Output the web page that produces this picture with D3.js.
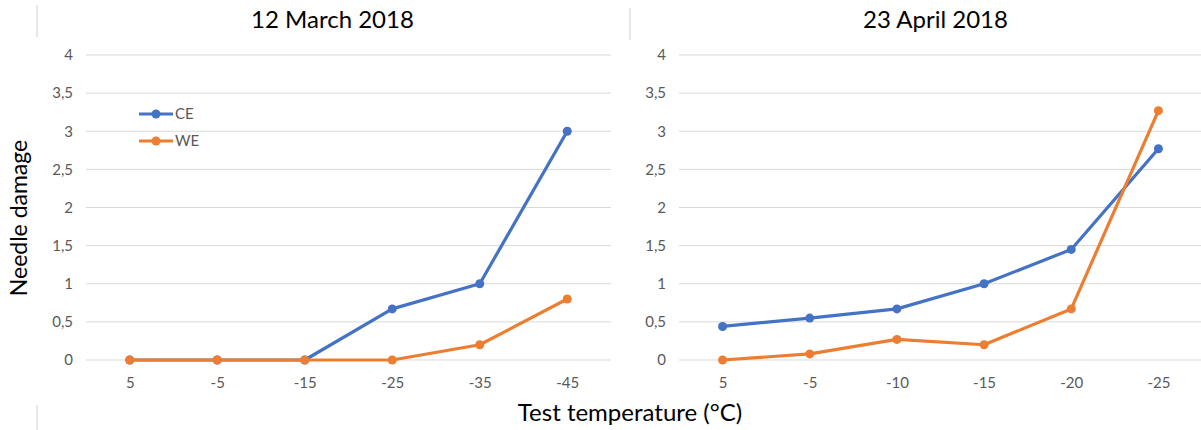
<!DOCTYPE html>
<html>
<head>
<meta charset="utf-8">
<script src="https://cdn.jsdelivr.net/npm/d3@7"></script>
<style>
  html, body { margin: 0; padding: 0; background: #fff; }
  svg { display: block; }
  text { font-family: Lato, "Open Sans", "Liberation Sans", sans-serif; }
</style>
</head>
<body>
<svg id="chart" width="1201" height="430"></svg>
<script>
// Needle damage after freezing tests, two sampling dates
const seriesNames = ["CE", "WE"];
const seriesColors = ["#4472C4", "#ED7D31"];
const yTicks = [0, 0.5, 1, 1.5, 2, 2.5, 3, 3.5, 4];

const marchTitle = "12 March 2018";
const marchTemps = ["5", "-5", "-15", "-25", "-35", "-45"];
const marchCE = [0, 0, 0, 0.67, 1, 3];
const marchWE = [0, 0, 0, 0, 0.2, 0.8];

const aprilTitle = "23 April 2018";
const aprilTemps = ["5", "-5", "-10", "-15", "-20", "-25"];
const aprilCE = [0.44, 0.55, 0.67, 1, 1.45, 2.77];
const aprilWE = [0, 0.08, 0.27, 0.2, 0.67, 3.27];

const svg = d3.select("#chart");
const fmt = d => String(d).replace(".", ",");

function panel(cfg) {
  const g = svg.append("g");
  const x = d3.scalePoint().domain(cfg.temps).range([cfg.x0, cfg.x1]).padding(0.5);
  const y = d3.scaleLinear().domain([0, 4]).range([360, 55]);

  // gridlines
  g.append("g").selectAll("line").data(yTicks).join("line")
    .attr("x1", cfg.x0).attr("x2", cfg.x1)
    .attr("y1", d => y(d)).attr("y2", d => y(d))
    .attr("stroke", "#d9d9d9").attr("stroke-width", 1);

  // y axis labels
  const yAxis = d3.axisLeft(y).tickValues(yTicks).tickFormat(fmt).tickSize(0).tickPadding(0);
  const ya = g.append("g").attr("transform", `translate(${cfg.x0 - 13},0)`).call(yAxis);
  ya.select(".domain").remove();
  ya.selectAll("text").attr("fill", "#595959").style("font-size", "15px")
    .style("font-family", "Lato, 'Open Sans', sans-serif");

  // x axis labels
  const xAxis = d3.axisBottom(x).tickSize(0).tickPadding(0);
  const xa = g.append("g").attr("transform", "translate(0,377)").call(xAxis);
  xa.select(".domain").remove();
  xa.selectAll("text").attr("fill", "#595959").style("font-size", "15px")
    .style("font-family", "Lato, 'Open Sans', sans-serif");

  // title
  g.append("text").attr("x", (cfg.x0 + cfg.x1) / 2 + cfg.titleShift).attr("y", 28)
    .attr("text-anchor", "middle").attr("fill", "#000").style("font-size", "24px")
    .text(cfg.title);

  // series: CE first, WE drawn over it where both sit at zero
  const line = d3.line().x((d, i) => x(cfg.temps[i])).y(d => y(d));
  cfg.series.forEach((vals, si) => {
    g.append("path").datum(vals).attr("d", line)
      .attr("fill", "none").attr("stroke", seriesColors[si])
      .attr("stroke-width", 3.2).attr("stroke-linejoin", "round");
    g.append("g").selectAll("circle").data(vals).join("circle")
      .attr("cx", (d, i) => x(cfg.temps[i])).attr("cy", d => y(d))
      .attr("r", 4.5).attr("fill", seriesColors[si]);
  });
}

panel({ title: marchTitle, temps: marchTemps, series: [marchCE, marchWE], x0: 86, x1: 611, titleShift: -16 });
panel({ title: aprilTitle, temps: aprilTemps, series: [aprilCE, aprilWE], x0: 679, x1: 1202, titleShift: -5 });

// legend
const legend = svg.append("g");
seriesNames.forEach((name, i) => {
  const ly = 114 + i * 27;
  legend.append("line").attr("x1", 139).attr("x2", 173).attr("y1", ly).attr("y2", ly)
    .attr("stroke", seriesColors[i]).attr("stroke-width", 3.2);
  legend.append("circle").attr("cx", 156).attr("cy", ly).attr("r", 4.5).attr("fill", seriesColors[i]);
  legend.append("text").attr("x", 175).attr("y", ly + 5).attr("fill", "#595959")
    .style("font-size", "15px").text(name);
});

// axis titles
svg.append("text").attr("transform", "translate(27,218) rotate(-90)")
  .attr("text-anchor", "middle").attr("fill", "#000").style("font-size", "23px")
  .text("Needle damage");
svg.append("text").attr("x", 630).attr("y", 421)
  .attr("text-anchor", "middle").attr("fill", "#000").style("font-size", "24px")
  .text("Test temperature (°C)");

// frame edge marks
[[37, 5, 37], [37, 405, 430], [630, 8, 40]].forEach(([lx, a, b]) => {
  svg.append("line").attr("x1", lx).attr("x2", lx).attr("y1", a).attr("y2", b)
    .attr("stroke", "#d9d9d9").attr("stroke-width", 1.2);
});
</script>
</body>
</html>
